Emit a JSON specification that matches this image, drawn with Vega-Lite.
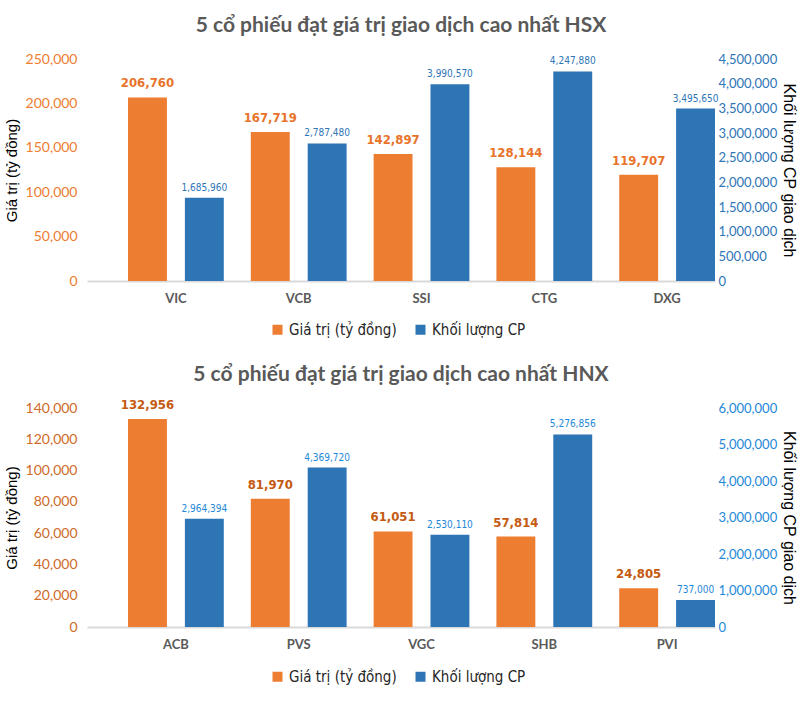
{
  "$schema": "https://vega.github.io/schema/vega-lite/v6.json",
  "background": "white",
  "padding": {"left": 4, "right": 2, "top": 15, "bottom": 5},
  "spacing": 26,
  "datasets": {
    "rows": [
      {"san": "HSX", "ma": "VIC", "chi_tieu": "Giá trị (tỷ đồng)", "gia_tri": 206760},
      {"san": "HSX", "ma": "VIC", "chi_tieu": "Khối lượng CP", "gia_tri": 1685960},
      {"san": "HSX", "ma": "VCB", "chi_tieu": "Giá trị (tỷ đồng)", "gia_tri": 167719},
      {"san": "HSX", "ma": "VCB", "chi_tieu": "Khối lượng CP", "gia_tri": 2787480},
      {"san": "HSX", "ma": "SSI", "chi_tieu": "Giá trị (tỷ đồng)", "gia_tri": 142897},
      {"san": "HSX", "ma": "SSI", "chi_tieu": "Khối lượng CP", "gia_tri": 3990570},
      {"san": "HSX", "ma": "CTG", "chi_tieu": "Giá trị (tỷ đồng)", "gia_tri": 128144},
      {"san": "HSX", "ma": "CTG", "chi_tieu": "Khối lượng CP", "gia_tri": 4247880},
      {"san": "HSX", "ma": "DXG", "chi_tieu": "Giá trị (tỷ đồng)", "gia_tri": 119707},
      {"san": "HSX", "ma": "DXG", "chi_tieu": "Khối lượng CP", "gia_tri": 3495650},
      {"san": "HNX", "ma": "ACB", "chi_tieu": "Giá trị (tỷ đồng)", "gia_tri": 132956},
      {"san": "HNX", "ma": "ACB", "chi_tieu": "Khối lượng CP", "gia_tri": 2964394},
      {"san": "HNX", "ma": "PVS", "chi_tieu": "Giá trị (tỷ đồng)", "gia_tri": 81970},
      {"san": "HNX", "ma": "PVS", "chi_tieu": "Khối lượng CP", "gia_tri": 4369720},
      {"san": "HNX", "ma": "VGC", "chi_tieu": "Giá trị (tỷ đồng)", "gia_tri": 61051},
      {"san": "HNX", "ma": "VGC", "chi_tieu": "Khối lượng CP", "gia_tri": 2530110},
      {"san": "HNX", "ma": "SHB", "chi_tieu": "Giá trị (tỷ đồng)", "gia_tri": 57814},
      {"san": "HNX", "ma": "SHB", "chi_tieu": "Khối lượng CP", "gia_tri": 5276856},
      {"san": "HNX", "ma": "PVI", "chi_tieu": "Giá trị (tỷ đồng)", "gia_tri": 24805},
      {"san": "HNX", "ma": "PVI", "chi_tieu": "Khối lượng CP", "gia_tri": 737000}
    ]
  },
  "config": {
    "view": {"stroke": null},
    "font": "Lato",
    "title": {"font": "Lato", "fontSize": 21, "fontWeight": "bold", "color": "#595959", "anchor": "middle"},
    "axisX": {"domainColor": "#d9d9d9", "domainWidth": 2, "ticks": false, "labelFont": "Lato", "labelFontWeight": "bold", "labelColor": "#595959", "labelFontSize": 13, "labelPadding": 11, "labelAngle": 0, "title": null, "grid": false},
    "axisY": {"domain": false, "ticks": false, "grid": false, "labelFont": "Lato", "labelFontSize": 14, "labelPadding": 10, "titleFont": "Liberation Sans", "titleFontWeight": "normal", "titleColor": "#000000"},
    "legend": {"orient": "none", "title": null, "direction": "horizontal", "symbolType": "square", "symbolSize": 100, "symbolStrokeWidth": 0, "labelFont": "'Liberation Sans Narrow', 'DejaVu Sans Condensed', Roboto", "labelFontSize": 15, "labelColor": "#262626", "columnPadding": 16}
  },
  "resolve": {"scale": {"color": "independent"}, "legend": {"color": "independent"}},
  "vconcat": [
    {
      "title": {"text": "5 cổ phiếu đạt giá trị giao dịch cao nhất HSX", "offset": 16},
      "width": 628,
      "height": 222,
      "data": {"name": "rows"},
      "transform": [{"filter": "datum.san === 'HSX'"}],
      "encoding": {
        "x": {"field": "ma", "type": "nominal", "sort": null, "scale": {"type": "band", "paddingInner": 0.22, "paddingOuter": 0.167, "align": 1}},
        "xOffset": {"field": "chi_tieu", "type": "nominal", "scale": {"domain": ["Giá trị (tỷ đồng)", "Khối lượng CP"], "paddingInner": 0.316, "paddingOuter": 0}}
      },
      "layer": [
        {
          "transform": [{"filter": "datum.chi_tieu === 'Giá trị (tỷ đồng)'"}],
          "encoding": {
            "y": {"field": "gia_tri", "type": "quantitative", "scale": {"domain": [0, 250000]},
              "axis": {"orient": "left", "values": [0, 50000, 100000, 150000, 200000, 250000], "format": ",.0f", "labelColor": "#ED7D31", "title": "Giá trị (tỷ đồng)", "titleFontSize": 15, "titlePadding": 6}}
          },
          "layer": [
            {"mark": {"type": "bar"}, "encoding": {"color": {"field": "chi_tieu", "type": "nominal", "scale": {"domain": ["Giá trị (tỷ đồng)", "Khối lượng CP"], "range": ["#ED7D31", "#2E75B6"]}, "legend": {"legendX": 183, "legendY": 263}}}},
            {"mark": {"type": "text", "baseline": "bottom", "dy": -7, "font": "'Liberation Sans Narrow', 'DejaVu Sans Condensed', Roboto", "fontWeight": "bold", "fontSize": 13, "color": "#E8732A"}, "encoding": {"text": {"field": "gia_tri", "type": "quantitative", "format": ",.0f"}}}
          ]
        },
        {
          "transform": [{"filter": "datum.chi_tieu === 'Khối lượng CP'"}],
          "encoding": {
            "y": {"field": "gia_tri", "type": "quantitative", "scale": {"domain": [0, 4500000]},
              "axis": {"orient": "right", "values": [0, 500000, 1000000, 1500000, 2000000, 2500000, 3000000, 3500000, 4000000, 4500000], "format": ",.0f", "labelColor": "#2E75B6", "labelFontSize": 13, "labelPadding": 3, "title": "Khối lượng CP giao dịch", "titleFontSize": 16, "titlePadding": 4}}
          },
          "layer": [
            {"mark": {"type": "bar"}, "encoding": {"color": {"field": "chi_tieu", "type": "nominal", "scale": {"domain": ["Giá trị (tỷ đồng)", "Khối lượng CP"], "range": ["#ED7D31", "#2E75B6"]}, "legend": {"legendX": 183, "legendY": 263}}}},
            {"mark": {"type": "text", "baseline": "bottom", "dy": -5, "font": "'Liberation Sans Narrow', 'DejaVu Sans Condensed', Roboto", "fontSize": 10, "color": "#2E75B6"}, "encoding": {"text": {"field": "gia_tri", "type": "quantitative", "format": ",.0f"}}}
          ]
        }
      ],
      "resolve": {"scale": {"y": "independent"}}
    },
    {
      "title": {"text": "5 cổ phiếu đạt giá trị giao dịch cao nhất HNX", "offset": 14},
      "width": 628,
      "height": 219,
      "data": {"name": "rows"},
      "transform": [{"filter": "datum.san === 'HNX'"}],
      "encoding": {
        "x": {"field": "ma", "type": "nominal", "sort": null, "scale": {"type": "band", "paddingInner": 0.22, "paddingOuter": 0.167, "align": 1}},
        "xOffset": {"field": "chi_tieu", "type": "nominal", "scale": {"domain": ["Giá trị (tỷ đồng)", "Khối lượng CP"], "paddingInner": 0.316, "paddingOuter": 0}}
      },
      "layer": [
        {
          "transform": [{"filter": "datum.chi_tieu === 'Giá trị (tỷ đồng)'"}],
          "encoding": {
            "y": {"field": "gia_tri", "type": "quantitative", "scale": {"domain": [0, 140000]},
              "axis": {"orient": "left", "values": [0, 20000, 40000, 60000, 80000, 100000, 120000, 140000], "format": ",.0f", "labelColor": "#D06A28", "title": "Giá trị (tỷ đồng)", "titleFontSize": 15, "titlePadding": 6}}
          },
          "layer": [
            {"mark": {"type": "bar"}, "encoding": {"color": {"field": "chi_tieu", "type": "nominal", "scale": {"domain": ["Giá trị (tỷ đồng)", "Khối lượng CP"], "range": ["#ED7D31", "#2E75B6"]}, "legend": {"legendX": 183, "legendY": 261}}}},
            {"mark": {"type": "text", "baseline": "bottom", "dy": -7, "font": "'Liberation Sans Narrow', 'DejaVu Sans Condensed', Roboto", "fontWeight": "bold", "fontSize": 13, "color": "#C55A11"}, "encoding": {"text": {"field": "gia_tri", "type": "quantitative", "format": ",.0f"}}}
          ]
        },
        {
          "transform": [{"filter": "datum.chi_tieu === 'Khối lượng CP'"}],
          "encoding": {
            "y": {"field": "gia_tri", "type": "quantitative", "scale": {"domain": [0, 6000000]},
              "axis": {"orient": "right", "values": [0, 1000000, 2000000, 3000000, 4000000, 5000000, 6000000], "format": ",.0f", "labelColor": "#1E88D8", "labelFontSize": 13, "labelPadding": 3, "title": "Khối lượng CP giao dịch", "titleFontSize": 16, "titlePadding": 4}}
          },
          "layer": [
            {"mark": {"type": "bar"}, "encoding": {"color": {"field": "chi_tieu", "type": "nominal", "scale": {"domain": ["Giá trị (tỷ đồng)", "Khối lượng CP"], "range": ["#ED7D31", "#2E75B6"]}, "legend": {"legendX": 183, "legendY": 261}}}},
            {"mark": {"type": "text", "baseline": "bottom", "dy": -5, "font": "'Liberation Sans Narrow', 'DejaVu Sans Condensed', Roboto", "fontSize": 10, "color": "#1E88D8"}, "encoding": {"text": {"field": "gia_tri", "type": "quantitative", "format": ",.0f"}}}
          ]
        }
      ],
      "resolve": {"scale": {"y": "independent"}}
    }
  ]
}
